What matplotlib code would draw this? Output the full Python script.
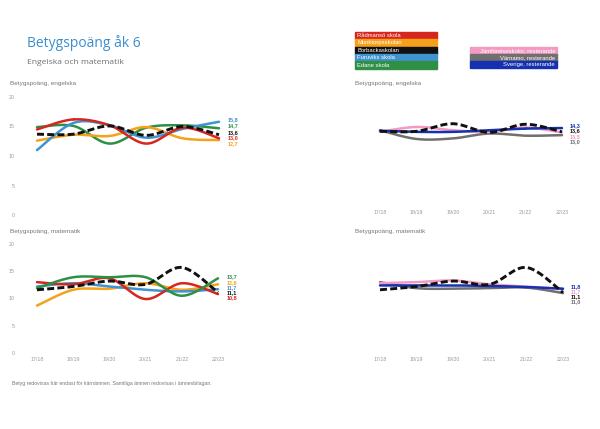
import numpy as np
import matplotlib
matplotlib.use("Agg")
import matplotlib.pyplot as plt
from matplotlib.patches import Rectangle

# Data
years = ["17/18", "18/19", "19/20", "20/21", "21/22", "22/23"]

# Engelska - skolor
eng_radmanso = [14.5, 16.2, 15.2, 12.1, 14.8, 13.0]
eng_munktorp = [12.6, 13.6, 13.4, 14.9, 13.0, 12.7]
eng_borbacka = [13.7, 13.7, 15.1, 13.5, 15.0, 13.6]
eng_furuvik = [11.0, 15.6, 15.2, 13.1, 14.6, 15.8]
eng_edane = [14.9, 15.1, 12.1, 14.8, 15.2, 14.7]
# Engelska - jamforelser
eng_jamfor = [13.6, 14.5, 13.9, 13.6, 14.4, 13.5]
eng_varnamo = [13.9, 12.3, 12.4, 13.3, 12.9, 13.0]
eng_sverige = [13.8, 13.6, 13.6, 13.9, 14.2, 14.3]

# Matematik - skolor
mat_radmanso = [13.0, 12.6, 13.7, 9.9, 12.8, 10.8]
mat_munktorp = [8.7, 11.6, 11.8, 12.8, 11.6, 12.6]
mat_borbacka = [11.6, 12.2, 13.2, 12.6, 15.7, 11.1]
mat_furuvik = [12.2, 12.8, 12.2, 11.6, 11.3, 11.7]
mat_edane = [11.9, 13.9, 13.9, 13.9, 10.5, 13.7]
# Matematik - jamforelser
mat_jamfor = [12.8, 13.0, 13.3, 12.6, 12.2, 11.7]
mat_varnamo = [13.0, 11.9, 11.8, 11.9, 12.0, 11.0]
mat_sverige = [12.4, 12.4, 12.4, 12.3, 12.1, 11.8]

school_names = ["Rådmansö skola", "Munktorpsskolan", "Borbackaskolan", "Furuviks skola", "Edane skola"]
compare_names = ["Jämförelseskolor, resterande", "Värnamo, resterande", "Sverige, resterande"]

RED = "#d7261e"
ORANGE = "#f7a11a"
BLACK = "#111111"
LBLUE = "#3e93d0"
GREEN = "#2f8f45"
PINK = "#f29ac2"
GRAY = "#6f6f6f"
DBLUE = "#1530b0"

W, H = 600, 429


def smooth(vals, n=30):
    """Catmull-Rom curve through the points (like Excel smoothed lines)."""
    x = np.arange(len(vals), dtype=float)
    y = np.asarray(vals, dtype=float)
    px = np.concatenate([[x[0]], x, [x[-1]]])
    py = np.concatenate([[y[0]], y, [y[-1]]])
    xs, ys = [], []
    t = np.linspace(0, 1, n)
    for i in range(1, len(px) - 2):
        for p, out in ((px, xs), (py, ys)):
            p0, p1, p2, p3 = p[i - 1], p[i], p[i + 1], p[i + 2]
            out.append(0.5 * ((2 * p1) + (-p0 + p2) * t
                              + (2 * p0 - 5 * p1 + 4 * p2 - p3) * t ** 2
                              + (-p0 + 3 * p1 - 3 * p2 + p3) * t ** 3))
    return np.concatenate(xs), np.concatenate(ys)


def make_axes(fig, x0, x5, y0, y20):
    # x0/x5: pixel x of first/last year, y0/y20: pixel y of value 0/20
    unit = (x5 - x0) / 5.0
    left = x0 - 0.5 * unit
    ax = fig.add_axes([left / W, 1 - y0 / H, 6 * unit / W, (y0 - y20) / H])
    ax.set_xlim(-0.5, 5.5)
    ax.set_ylim(0, 20)
    for s in ax.spines.values():
        s.set_visible(False)
    ax.tick_params(length=0, labelsize=3.8, labelcolor="#999999", pad=3)
    ax.set_facecolor("none")
    return ax


def draw_panel(ax, series, show_x, show_y, label_x):
    for vals, color, dashed in series:
        xs, ys = smooth(vals)
        if dashed:
            ax.plot(xs, ys, color=BLACK, lw=2.1, ls=(0, (2.4, 1.1)), zorder=5,
                    dash_capstyle="butt")
        else:
            ax.plot(xs, ys, color=color, lw=1.8, zorder=3, solid_capstyle="round")
    # end labels, spread so they don't overlap
    ends = sorted([(v[-1], c) for v, c, d in series], key=lambda e: -e[0])
    gap = 0.95
    prev = None
    for val, color in ends:
        pos = val + 0.4
        if prev is not None:
            pos = min(pos, prev - gap)
        prev = pos
        ax.text(label_x, pos, f"{val:.1f}".replace(".", ","), color=color,
                fontsize=4.0, fontweight="bold", va="center", ha="left",
                clip_on=False)
    ax.set_xticks(range(len(years)))
    ax.set_xticklabels(years if show_x else [])
    if show_y:
        ax.set_yticks([0, 5, 10, 15, 20])
    else:
        ax.set_yticks([])


plt.rcParams["font.family"] = ["Liberation Sans", "DejaVu Sans"]
fig = plt.figure(figsize=(6, 4.29), dpi=100)

# Top left: engelska skolor
ax1 = make_axes(fig, 37, 219, 215, 97)
draw_panel(ax1, [(eng_edane, GREEN, False), (eng_munktorp, ORANGE, False),
                 (eng_furuvik, LBLUE, False), (eng_radmanso, RED, False),
                 (eng_borbacka, BLACK, True)], False, True, 5.25)

# Top right: engelska jamforelser
ax2 = make_axes(fig, 380, 562, 206, 97)
draw_panel(ax2, [(eng_varnamo, GRAY, False), (eng_jamfor, PINK, False),
                 (eng_sverige, DBLUE, False), (eng_borbacka, BLACK, True)],
           True, False, 5.2)

# Bottom left: matematik skolor
ax3 = make_axes(fig, 37, 218, 353, 244)
draw_panel(ax3, [(mat_munktorp, ORANGE, False), (mat_furuvik, LBLUE, False),
                 (mat_radmanso, RED, False), (mat_edane, GREEN, False),
                 (mat_borbacka, BLACK, True)], True, True, 5.25)

# Bottom right: matematik jamforelser
ax4 = make_axes(fig, 380, 563, 353, 244)
draw_panel(ax4, [(mat_varnamo, GRAY, False), (mat_jamfor, PINK, False),
                 (mat_sverige, DBLUE, False), (mat_borbacka, BLACK, True)],
           True, False, 5.2)

# Titles
fig.text(27 / W, 1 - 43 / H, "Betygspoäng åk 6", color="#3b8ed0", fontsize=10,
         family="Open Sans", va="center")
fig.text(27 / W, 1 - 63 / H, "Engelska och matematik", color="#707070", fontsize=6.1,
         family="Open Sans", va="center")
for (px, py), txt in zip([(10, 84), (355, 84), (10, 232), (355, 232)],
                         ["Betygspoäng, engelska", "Betygspoäng, engelska",
                          "Betygspoäng, matematik", "Betygspoäng, matematik"]):
    fig.text(px / W, 1 - py / H, txt, color="#777777", fontsize=4.6, va="center")

# Legends as coloured boxes
row_h = 7.45
for i, (name, color) in enumerate(zip(school_names, [RED, ORANGE, BLACK, LBLUE, GREEN])):
    top = 31.7 + i * row_h
    fig.patches.append(Rectangle((355 / W, 1 - (top + row_h) / H), 82 / W, row_h / H,
                                 transform=fig.transFigure, color=color))
    fig.text(357 / W, 1 - (top + row_h / 2) / H, name, color="white", fontsize=4.2,
             va="center", ha="left")
row_h2 = 7.2
for i, (name, color) in enumerate(zip(compare_names, [PINK, GRAY, DBLUE])):
    top = 46.7 + i * row_h2
    fig.patches.append(Rectangle((470 / W, 1 - (top + row_h2) / H), 87 / W, row_h2 / H,
                                 transform=fig.transFigure, color=color))
    fig.text(555 / W, 1 - (top + row_h2 / 2) / H, name, color="white", fontsize=4.2,
             va="center", ha="right")

# Footnote
fig.text(12 / W, 1 - 383 / H,
         "Betyg redovisas här endast för kärnämnen. Samtliga ämnen redovisas i ämnesbilagan.",
         color="#777777", fontsize=3.7, va="center")

fig.savefig("out.png", dpi=100)
